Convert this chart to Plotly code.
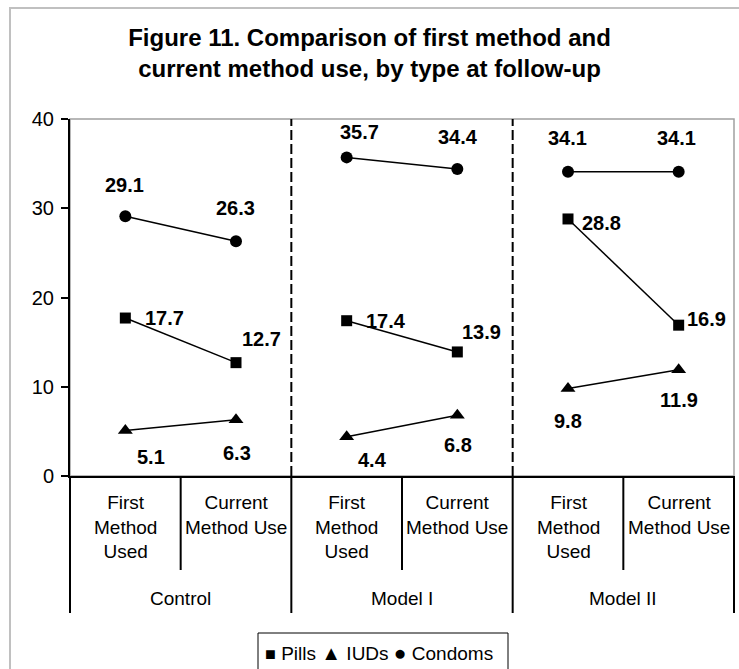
import plotly.graph_objects as go

# ---- data -------------------------------------------------------------
groups = ["Control", "Model I", "Model II"]
stages = ["First<br>Method<br>Used", "Current<br>Method Use"]
series_names = ["Pills", "IUDs", "Condoms"]
pills = [17.7, 12.7, 17.4, 13.9, 28.8, 16.9]
iuds = [5.1, 6.3, 4.4, 6.8, 9.8, 11.9]
condoms = [29.1, 26.3, 35.7, 34.4, 34.1, 34.1]
y_ticks = [0, 10, 20, 30, 40]

# ---- styling ----------------------------------------------------------
FONT = "Arial, Liberation Sans, sans-serif"
symbols = {"Pills": "square", "IUDs": "triangle-up", "Condoms": "circle"}
glyphs = {"Pills": "■", "IUDs": "▲", "Condoms": "●"}
glyph_sizes = {"Pills": 18, "IUDs": 20, "Condoms": 21}
marker_sizes = {"Pills": 11, "IUDs": 13, "Condoms": 12}
# pixel offsets (dx, dy; dy downward) of each value label from its point
label_offsets = {
    "Pills": [(39, 0), (25, -24), (39, 0), (24, -20), (33, 4), (28, -6)],
    "IUDs": [(26, 27), (1, 33), (26, 23), (1, 30), (0, 32), (0, 30)],
    "Condoms": [(-1, -31), (-1, -33), (13, -25), (1, -32), (-1, -34), (-2, -34)],
}

n_groups = len(groups)
n_stages = len(stages)
n_cats = n_groups * n_stages
x_pos = list(range(n_cats))
x_min, x_max = -0.5, n_cats - 0.5


def to_paper(xv):
    return (xv - x_min) / (x_max - x_min)


def broken(values):
    """Insert gaps so lines only join the two stages inside one group."""
    xs, ys = [], []
    for g in range(n_groups):
        for s in range(n_stages):
            i = g * n_stages + s
            xs.append(x_pos[i])
            ys.append(values[i])
        xs.append(None)
        ys.append(None)
    return xs, ys


fig = go.Figure()
series = {"Pills": pills, "IUDs": iuds, "Condoms": condoms}
annotations = []
for name in series_names:
    vals = series[name]
    xs, ys = broken(vals)
    fig.add_trace(go.Scatter(
        x=xs, y=ys, mode="lines+markers", name=name, showlegend=False,
        line=dict(color="black", width=1.5),
        marker=dict(symbol=symbols[name], size=marker_sizes[name], color="black"),
        connectgaps=False, hoverinfo="skip",
    ))
    for i, v in enumerate(vals):
        dx, dy = label_offsets[name][i]
        annotations.append(dict(
            x=x_pos[i], y=v, xref="x", yref="y", text=f"{v:.1f}",
            showarrow=False, xshift=dx, yshift=-dy,
            font=dict(family=FONT, size=20, color="black", weight="bold"),
        ))

# ---- geometry (pixels) ------------------------------------------------
W, H = 739, 669
ML, MR, MT, MB = 70, 5, 119, 193
plot_w = W - ML - MR
plot_h = H - MT - MB


def py(px_y):
    """Convert a pixel row to paper y."""
    return (H - MB - px_y) / plot_h


def px(px_x):
    """Convert a pixel column to paper x."""
    return (px_x - ML) / plot_w


shapes = []
# outer frame of the chart
shapes.append(dict(type="rect", xref="paper", yref="paper",
                   x0=px(10), x1=1.2, y0=-1.0, y1=py(8),
                   line=dict(color="#c0c0c0", width=2), layer="below"))
# plot area frame (top & right grey)
shapes.append(dict(type="rect", xref="paper", yref="paper",
                   x0=0, x1=1, y0=0, y1=1,
                   line=dict(color="#a0a0a0", width=1.5), layer="below"))
# dashed separators between groups inside the plot
for g in range(1, n_groups):
    b = to_paper(g * n_stages - 0.5)
    shapes.append(dict(type="line", xref="paper", yref="paper",
                       x0=b, x1=b, y0=0, y1=1,
                       line=dict(color="black", width=2, dash="10px,4px")))
# category axis divider lines below the plot
for k in range(n_cats + 1):
    b = to_paper(k - 0.5)
    outer = (k % n_stages == 0)
    shapes.append(dict(type="line", xref="paper", yref="paper",
                       x0=b, x1=b, y0=0, y1=py(613 if outer else 570),
                       line=dict(color="black", width=2)))

# stage labels and group labels
for i in range(n_cats):
    annotations.append(dict(
        x=x_pos[i], y=py(490), xref="x", yref="paper", yanchor="top",
        text=stages[i % n_stages], showarrow=False, align="center",
        font=dict(family=FONT, size=19, color="black"),
    ))
for g in range(n_groups):
    annotations.append(dict(
        x=g * n_stages + (n_stages - 1) / 2, y=py(598), xref="x", yref="paper",
        yanchor="middle", text=groups[g], showarrow=False,
        font=dict(family=FONT, size=19, color="black"),
    ))

# key box below the category axis
shapes.append(dict(type="rect", xref="paper", yref="paper",
                   x0=px(258), x1=px(508), y0=py(675), y1=py(633),
                   line=dict(color="black", width=1), fillcolor="white"))
key_text = " ".join(
    f'<span style="font-size:{glyph_sizes[n]}px">{glyphs[n]}</span> {n}'
    for n in series_names
)
annotations.append(dict(
    x=px(379), y=py(652), xref="paper", yref="paper", text=key_text,
    showarrow=False, xanchor="center", yanchor="middle",
    font=dict(family=FONT, size=19, color="black"),
))

fig.update_layout(
    width=W, height=H,
    margin=dict(l=ML, r=MR, t=MT, b=MB, autoexpand=False),
    paper_bgcolor="white", plot_bgcolor="white",
    title=dict(
        text="Figure 11. Comparison of first method and<br>current method use, by type at follow-up",
        x=0.5, xref="container", xanchor="center",
        y=1 - 45.5 / H, yref="container", yanchor="middle",
        font=dict(family=FONT, size=24, color="black", weight="bold"),
    ),
    xaxis=dict(range=[x_min, x_max], showticklabels=False, ticks="",
               showgrid=False, zeroline=False, showline=True,
               linecolor="black", linewidth=2),
    yaxis=dict(range=[0, 40], tickvals=y_ticks, ticks="outside", ticklen=7,
               tickwidth=2, tickcolor="black", showgrid=False, zeroline=False,
               showline=True, linecolor="black", linewidth=2,
               ticklabelstandoff=3,
               tickfont=dict(family=FONT, size=20, color="black")),
    shapes=shapes,
    annotations=annotations,
    showlegend=False,
)

fig.write_html("out.html")
